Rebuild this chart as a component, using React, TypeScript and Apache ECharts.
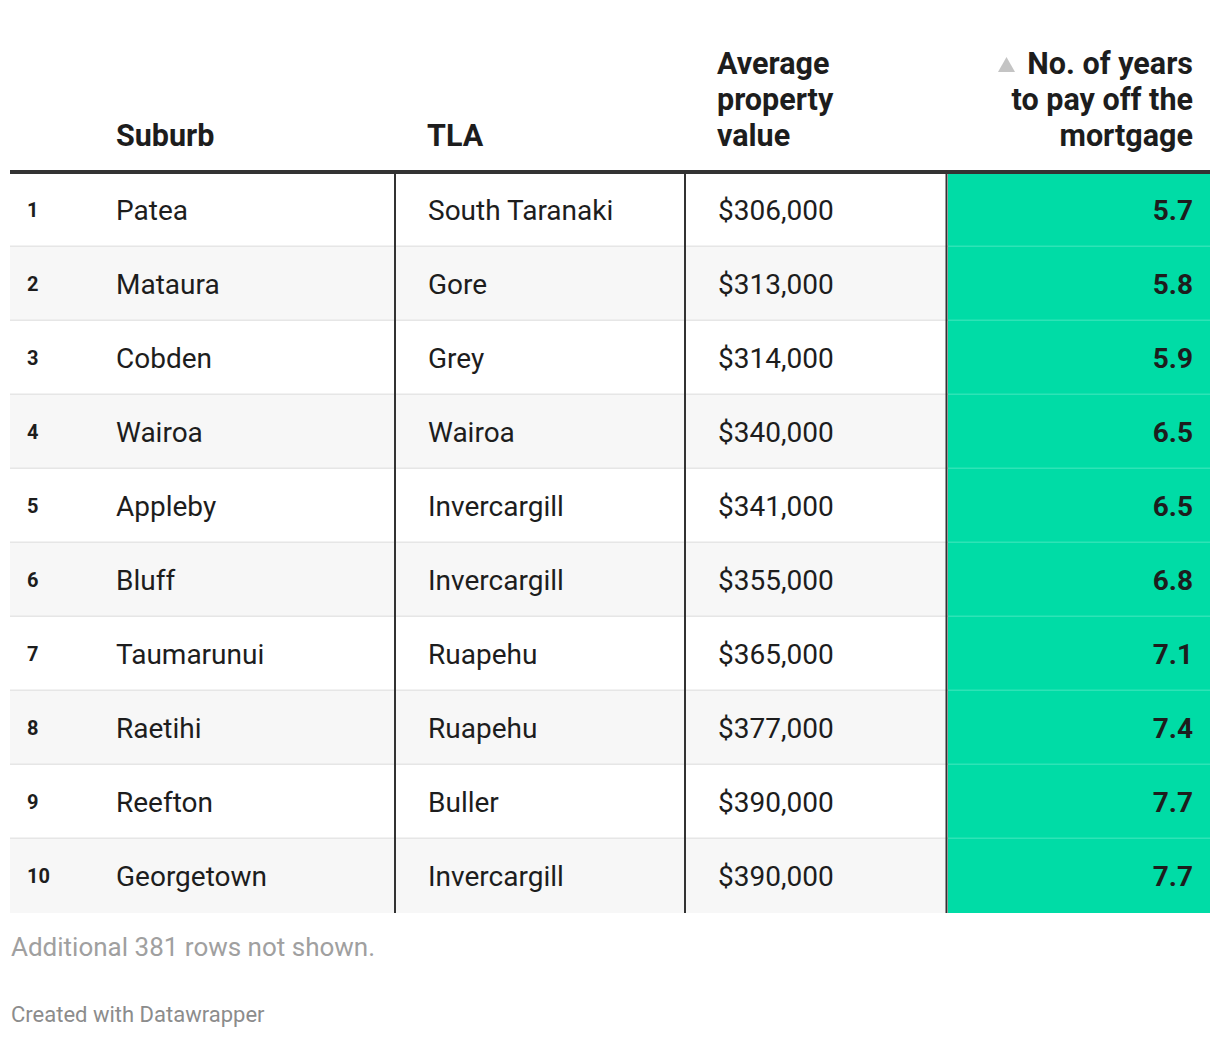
import React, { useEffect, useRef } from "react";
import * as echarts from "echarts";

const ranks = ["1", "2", "3", "4", "5", "6", "7", "8", "9", "10"];
const suburbs = ["Patea", "Mataura", "Cobden", "Wairoa", "Appleby", "Bluff", "Taumarunui", "Raetihi", "Reefton", "Georgetown"];
const tlas = ["South Taranaki", "Gore", "Grey", "Wairoa", "Invercargill", "Invercargill", "Ruapehu", "Ruapehu", "Buller", "Invercargill"];
const propertyValues = [306000, 313000, 314000, 340000, 341000, 355000, 365000, 377000, 390000, 390000];
const yearsToPay = [5.7, 5.8, 5.9, 6.5, 6.5, 6.8, 7.1, 7.4, 7.7, 7.7];

const headerSuburb = ["Suburb"];
const headerTla = ["TLA"];
const headerValue = ["Average", "property", "value"];
const headerYears = ["No. of years", "to pay off the", "mortgage"];
const footNote = "Additional 381 rows not shown.";
const credit = "Created with Datawrapper";

const FONT = "Roboto, 'Noto Sans', sans-serif";
const DARK = "#1d1d1d";
const GREEN = "#00dca6";

// column layout in axis units (0..1200 => px 10..1210)
const COL_RANK = 17;
const COL_SUBURB = 106;
const COL_TLA = 418;
const COL_VALUE = 708;
const COL_YEARS_R = 1183;
const VLINES = [385, 675, 936.5];
const GREEN_L = 938;

function fmtMoney(v: number) {
  return "$" + v.toLocaleString("en-US");
}

export default function App() {
  const ref = useRef<HTMLDivElement>(null);
  useEffect(() => {
    const chart = echarts.init(ref.current!, undefined, { renderer: "svg" });
    const headerLines = (lines: string[], x: number, align: string) =>
      lines.map((t, i) => ({
        type: "text",
        x,
        y: 135 - (lines.length - 1 - i) * 36,
        style: {
          text: t,
          fill: DARK,
          font: `bold 30.5px ${FONT}`,
          textAlign: align,
          textVerticalAlign: "middle",
        },
      }));
    chart.setOption({
      animation: false,
      grid: { left: 10, right: 10, top: 173, height: 740, containLabel: false },
      xAxis: { type: "value", min: 0, max: 1200, show: false },
      yAxis: { type: "category", data: ranks, inverse: true, show: false },
      graphic: [
        ...headerLines(headerSuburb, 116, "left"),
        ...headerLines(headerTla, 427, "left"),
        ...headerLines(headerValue, 717, "left"),
        ...headerLines(headerYears, 1193, "right"),
        {
          type: "polygon",
          shape: { points: [[998, 72], [1015, 72], [1006.5, 57]] },
          style: { fill: "#c4c4c4" },
        },
        {
          type: "rect",
          shape: { x: 10, y: 170, width: 1200, height: 4 },
          style: { fill: "#333333" },
          z: 100,
        },
        {
          type: "text",
          x: 11,
          y: 947,
          style: { text: footNote, fill: "#a0a0a0", font: `26px ${FONT}`, textAlign: "left", textVerticalAlign: "middle" },
        },
        {
          type: "text",
          x: 11,
          y: 1014,
          style: { text: credit, fill: "#8c8c8c", font: `22px ${FONT}`, textAlign: "left", textVerticalAlign: "middle" },
        },
      ],
      series: [
        {
          type: "custom",
          data: ranks.map((_, i) => [yearsToPay[i], i]),
          encode: { x: 0, y: 1 },
          renderItem: (params: any, api: any) => {
            const i = params.dataIndex;
            const c = api.coord([0, i]);
            const yc = c[1];
            const h = api.size([0, 1])[1];
            const top = yc - h / 2;
            const px = (u: number) => api.coord([u, i])[0];
            const x0 = px(0);
            const x1 = px(1200);
            const children: any[] = [];
            children.push({
              type: "rect",
              shape: { x: x0, y: top, width: x1 - x0, height: h },
              style: { fill: i % 2 === 1 ? "#f7f7f7" : "#ffffff" },
            });
            children.push({
              type: "rect",
              shape: { x: px(GREEN_L), y: top, width: x1 - px(GREEN_L), height: h },
              style: { fill: GREEN },
            });
            if (i < ranks.length - 1) {
              children.push({
                type: "rect",
                shape: { x: x0, y: top + h - 1.5, width: px(GREEN_L) - x0, height: 1.5 },
                style: { fill: "#e6e6e6" },
              });
              children.push({
                type: "rect",
                shape: { x: px(GREEN_L), y: top + h - 1.5, width: x1 - px(GREEN_L), height: 1.5 },
                style: { fill: "#2ee3b6" },
              });
            }
            VLINES.forEach((v) => {
              children.push({
                type: "rect",
                shape: { x: px(v) - 1, y: top, width: 2, height: h },
                style: { fill: "#333333" },
              });
            });
            const txt = (text: string, x: number, font: string, align: string) => ({
              type: "text",
              style: {
                text,
                x,
                y: yc,
                fill: DARK,
                font,
                align,
                verticalAlign: "middle",
              },
            });
            children.push(txt(ranks[i], px(COL_RANK), `bold 20px ${FONT}`, "left"));
            children.push(txt(suburbs[i], px(COL_SUBURB), `28px ${FONT}`, "left"));
            children.push(txt(tlas[i], px(COL_TLA), `28px ${FONT}`, "left"));
            children.push(txt(fmtMoney(propertyValues[i]), px(COL_VALUE), `28px ${FONT}`, "left"));
            children.push(txt(api.value(0).toFixed(1), px(COL_YEARS_R), `bold 28px ${FONT}`, "right"));
            return { type: "group", children };
          },
        },
      ],
    });
    return () => chart.dispose();
  }, []);
  return (
    <div
      ref={ref}
      style={{ position: "absolute", left: 0, top: 0, width: 1220, height: 1038, background: "#ffffff" }}
    />
  );
}
